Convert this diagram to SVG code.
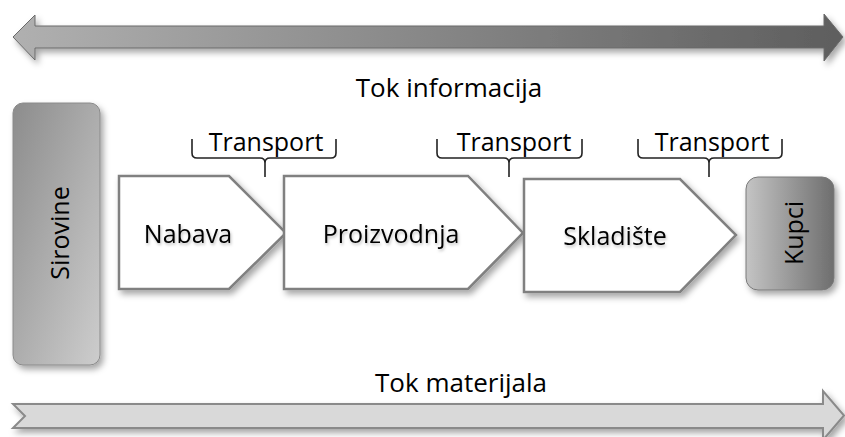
<svg xmlns="http://www.w3.org/2000/svg" width="845" height="437" viewBox="0 0 845 437">
<defs>
<linearGradient id="gTop" x1="0" y1="0" x2="1" y2="0">
<stop offset="0" stop-color="#b0b0b0"/><stop offset="1" stop-color="#5e5e5e"/>
</linearGradient>
<linearGradient id="gSir" x1="0" y1="0" x2="1" y2="1">
<stop offset="0" stop-color="#8c8c8c"/><stop offset="1" stop-color="#cdcdcd"/>
</linearGradient>
<linearGradient id="gKup" x1="0" y1="0" x2="1" y2="0">
<stop offset="0" stop-color="#c4c4c4"/><stop offset="1" stop-color="#6e6e6e"/>
</linearGradient>
<filter id="sh" x="-10%" y="-20%" width="130%" height="150%">
<feDropShadow dx="3" dy="4" stdDeviation="3" flood-color="#000" flood-opacity="0.35"/>
</filter>
<filter id="tsh" x="-10%" y="-20%" width="130%" height="150%">
<feDropShadow dx="1" dy="2" stdDeviation="1.5" flood-color="#000" flood-opacity="0.25"/>
</filter>
</defs>
<style>
.t{font-family:"Open Sans","Noto Sans","Liberation Sans",sans-serif;fill:#000;}
.big{font-size:26px;}
.lab{font-size:25px;}
.box{fill:#fff;stroke:#808080;stroke-width:2.5;}
.brace{fill:none;stroke:#222;stroke-width:1.6;}
</style>
<g id="info-flow">
<path d="M13,37 L35,15 L35,26 L824,26 L824,14 L843,37 L824,61 L824,48 L35,48 L35,60 Z" fill="url(#gTop)" stroke="#6a6a6a" stroke-width="1" filter="url(#sh)"/>
<text class="t big" x="449" y="97" text-anchor="middle">Tok informacija</text>
</g>
<g id="material-flow">
<path d="M13,404 L823,404 L823,391 L844,415.5 L823,440 L823,428 L13,428 L25,416 Z" fill="#d9d9d9" stroke="#8a8a8a" stroke-width="2" filter="url(#sh)"/>
<text class="t big" x="461" y="392" text-anchor="middle">Tok materijala</text>
</g>
<g id="sirovine">
<rect x="13" y="103" width="87" height="262" rx="10" fill="url(#gSir)" stroke="#8a8a8a" stroke-width="1" filter="url(#sh)"/>
<text class="t lab" transform="translate(69,233) rotate(-90)" text-anchor="middle">Sirovine</text>
</g>
<g id="kupci">
<rect x="746" y="177" width="88" height="113" rx="12" fill="url(#gKup)" stroke="#7a7a7a" stroke-width="1" filter="url(#sh)"/>
<text class="t lab" transform="translate(803,233) rotate(-90)" text-anchor="middle">Kupci</text>
</g>
<g id="nabava">
<path class="box" d="M119,176 L229,176 L286,233 L229,289 L119,289 Z" filter="url(#sh)"/>
<text class="t lab" x="188" y="243" text-anchor="middle" filter="url(#tsh)">Nabava</text>
</g>
<g id="proizvodnja">
<path class="box" d="M284,176 L468,176 L523,233 L468,289 L284,289 Z" filter="url(#sh)"/>
<text class="t lab" x="391" y="243" text-anchor="middle" filter="url(#tsh)">Proizvodnja</text>
</g>
<g id="skladiste">
<path class="box" d="M524,179 L680,179 L736,235 L680,292 L524,292 Z" filter="url(#sh)"/>
<text class="t lab" x="615" y="245" text-anchor="middle" filter="url(#tsh)">Skladište</text>
</g>
<g id="connectors">
<path class="brace" d="M192,139 L192,153 Q192,158 197,158 L260,158 Q265,158 265,163 L265,177 M265,163 Q265,158 270,158 L331,158 Q336,158 336,153 L336,139"/>
<path class="brace" d="M437,139 L437,153 Q437,158 442,158 L504,158 Q509,158 509,163 L509,177 M509,163 Q509,158 514,158 L577,158 Q582,158 582,153 L582,139"/>
<path class="brace" d="M638,139 L638,153 Q638,158 643,158 L704,158 Q709,158 709,163 L709,177 M709,163 Q709,158 714,158 L777,158 Q782,158 782,153 L782,139"/>
</g>
<g id="transport-labels">
<text class="t lab" x="266" y="151" text-anchor="middle">Transport</text>
<text class="t lab" x="514" y="151" text-anchor="middle">Transport</text>
<text class="t lab" x="712" y="151" text-anchor="middle">Transport</text>
</g>
</svg>
